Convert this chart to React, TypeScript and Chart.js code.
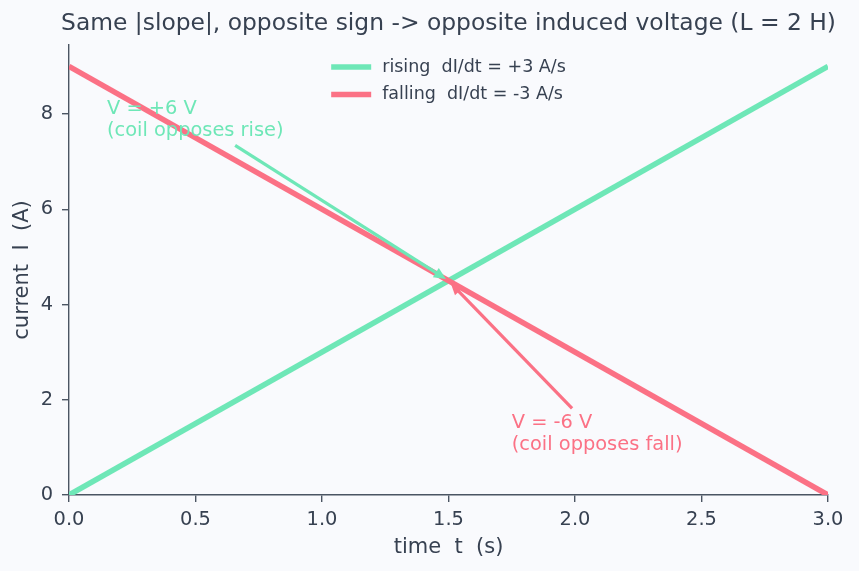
import { useEffect, useRef } from "react";
import { Chart, registerables } from "chart.js";

Chart.register(...registerables);

// ---------- data ----------
const TITLE = "Same |slope|, opposite sign -> opposite induced voltage (L = 2 H)";
const X_LABEL = "time  t  (s)";
const Y_LABEL = "current  I  (A)";
const TIMES = [0, 3];
const RISING = [0, 9];
const FALLING = [9, 0];
const SERIES_NAMES = ["rising  dI/dt = +3 A/s", "falling  dI/dt = -3 A/s"];
const X_TICKS = [0, 0.5, 1, 1.5, 2, 2.5, 3];
const Y_TICKS = [0, 2, 4, 6, 8];
const X_RANGE = [0, 3];
const Y_RANGE = [0, 9.45];
const ANNOT_TEXT = [
  ["V = +6 V", "(coil opposes rise)"],
  ["V = -6 V", "(coil opposes fall)"],
];
const ANNOT_POS = [
  [0.15, 8.0],
  [1.75, 1.4],
];
const ANNOT_TARGET = [
  [1.5, 4.5],
  [1.5, 4.5],
];

// ---------- style ----------
const FONT = "'DejaVu Sans', sans-serif";
const BG = "#f9fafd";
const TEXT = "#374151";
const AXIS = "#4b5563";
const GREEN = "#6ee7b7";
const RED = "#fb7185";
const COLORS = [GREEN, RED];

const overlay = {
  id: "overlay",
  beforeDraw(chart: any) {
    const c = chart.ctx;
    c.save();
    c.fillStyle = BG;
    c.fillRect(0, 0, chart.width, chart.height);
    c.restore();
  },
  afterDatasetsDraw(chart: any) {
    const c: CanvasRenderingContext2D = chart.ctx;
    const a = chart.chartArea;
    const xs = chart.scales.x;
    const ys = chart.scales.y;
    const cx = (a.left + a.right) / 2;
    c.save();

    // annotations
    const fs = 19.4;
    const lh = 22;
    ANNOT_TEXT.forEach((lines, i) => {
      const col = COLORS[i];
      const x0 = xs.getPixelForValue(ANNOT_POS[i][0]);
      const b0 = ys.getPixelForValue(ANNOT_POS[i][1]);
      c.font = `${fs}px ${FONT}`;
      c.fillStyle = col;
      c.textAlign = "left";
      c.textBaseline = "alphabetic";
      let w = 0;
      lines.forEach((ln, k) => {
        c.fillText(ln, x0, b0 + k * lh);
        w = Math.max(w, c.measureText(ln).width);
      });
      const pad = 3;
      const top = b0 - fs * 0.76 - pad;
      const bottom = b0 + (lines.length - 1) * lh + fs * 0.24 + pad;
      const left = x0 - pad;
      const right = x0 + w + pad;
      const ccx = (left + right) / 2;
      const ccy = (top + bottom) / 2;
      const tx = xs.getPixelForValue(ANNOT_TARGET[i][0]);
      const ty = ys.getPixelForValue(ANNOT_TARGET[i][1]);
      const dx = tx - ccx;
      const dy = ty - ccy;
      const len = Math.hypot(dx, dy);
      const ux = dx / len;
      const uy = dy / len;
      const tt = Math.min(
        Math.abs(dx) > 0 ? (right - left) / 2 / Math.abs(dx) : Infinity,
        Math.abs(dy) > 0 ? (bottom - top) / 2 / Math.abs(dy) : Infinity
      );
      const sx = ccx + dx * tt + ux * 3;
      const sy = ccy + dy * tt + uy * 3;
      const ex = tx - ux * 3;
      const ey = ty - uy * 3;
      const hl = 12;
      const hw = 5.5;
      c.strokeStyle = col;
      c.lineWidth = 3.2;
      c.lineCap = "butt";
      c.beginPath();
      c.moveTo(sx, sy);
      c.lineTo(ex - ux * hl * 0.8, ey - uy * hl * 0.8);
      c.stroke();
      c.fillStyle = col;
      c.beginPath();
      c.moveTo(ex, ey);
      c.lineTo(ex - ux * hl - uy * hw, ey - uy * hl + ux * hw);
      c.lineTo(ex - ux * hl + uy * hw, ey - uy * hl - ux * hw);
      c.closePath();
      c.fill();
    });

    // title
    c.fillStyle = TEXT;
    c.font = `23.4px ${FONT}`;
    c.textAlign = "center";
    c.textBaseline = "middle";
    c.fillText(TITLE, cx, 24);

    // axis titles
    c.font = `21px ${FONT}`;
    c.fillText(X_LABEL, cx, 548);
    c.save();
    c.translate(23, (a.top + a.bottom) / 2);
    c.rotate(-Math.PI / 2);
    c.fillText(Y_LABEL, 0, 0);
    c.restore();

    // legend
    c.font = `17.5px ${FONT}`;
    const handle = 40;
    const gap = 11;
    const tw = Math.max(...SERIES_NAMES.map((s) => c.measureText(s).width));
    const startX = cx - (handle + gap + tw) / 2;
    SERIES_NAMES.forEach((name, i) => {
      const y = a.top + 22 + i * 27.5;
      c.strokeStyle = COLORS[i];
      c.lineWidth = 5.5;
      c.beginPath();
      c.moveTo(startX, y);
      c.lineTo(startX + handle, y);
      c.stroke();
      c.fillStyle = TEXT;
      c.textAlign = "left";
      c.textBaseline = "middle";
      c.fillText(name, startX + handle + gap, y);
    });
    c.restore();
  },
};

export default function App() {
  const ref = useRef<HTMLCanvasElement>(null);
  useEffect(() => {
    document.body.style.margin = "0";
    const canvas = ref.current!;
    const tickFont = { family: FONT, size: 19.4 };
    const chart = new Chart(canvas, {
      type: "line",
      data: {
        datasets: [
          {
            label: SERIES_NAMES[0],
            data: TIMES.map((t, i) => ({ x: t, y: RISING[i] })),
            borderColor: GREEN,
            borderWidth: 5.5,
            pointRadius: 0,
            fill: false,
            tension: 0,
            order: 1,
            clip: 0,
          },
          {
            label: SERIES_NAMES[1],
            data: TIMES.map((t, i) => ({ x: t, y: FALLING[i] })),
            borderColor: RED,
            borderWidth: 5.5,
            pointRadius: 0,
            fill: false,
            tension: 0,
            order: 0,
            clip: 0,
          },
        ],
      },
      options: {
        responsive: false,
        animation: false,
        devicePixelRatio: 1,
        events: [],
        layout: { padding: { top: 45, right: 31, left: 0, bottom: 0 } },
        plugins: {
          legend: { display: false },
          title: { display: false },
          tooltip: { enabled: false },
        },
        scales: {
          x: {
            type: "linear",
            min: X_RANGE[0],
            max: X_RANGE[1],
            afterBuildTicks: (s: any) => {
              s.ticks = X_TICKS.map((v) => ({ value: v }));
            },
            afterFit: (s: any) => {
              s.height = 76;
            },
            grid: { drawOnChartArea: false, drawTicks: true, tickLength: 7, color: AXIS, lineWidth: 1.4 },
            border: { color: AXIS, width: 1.4 },
            ticks: {
              color: TEXT,
              font: tickFont,
              padding: 6,
              maxRotation: 0,
              autoSkip: false,
              callback: (v: any) => Number(v).toFixed(1),
            },
          },
          y: {
            type: "linear",
            min: Y_RANGE[0],
            max: Y_RANGE[1],
            afterBuildTicks: (s: any) => {
              s.ticks = Y_TICKS.map((v) => ({ value: v }));
            },
            afterFit: (s: any) => {
              s.width = 69;
            },
            grid: { drawOnChartArea: false, drawTicks: true, tickLength: 7, color: AXIS, lineWidth: 1.4 },
            border: { color: AXIS, width: 1.4 },
            ticks: {
              color: TEXT,
              font: tickFont,
              padding: 9,
              autoSkip: false,
              callback: (v: any) => String(v),
            },
          },
        },
      },
      plugins: [overlay],
    } as any);
    return () => chart.destroy();
  }, []);
  return (
    <div style={{ width: 859, height: 571, background: BG }}>
      <canvas ref={ref} width={859} height={571} style={{ display: "block" }} />
    </div>
  );
}
